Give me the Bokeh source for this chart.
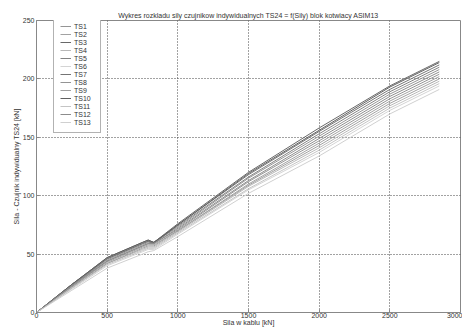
from bokeh.plotting import figure
from bokeh.models import Range1d, Legend, LegendItem, FixedTicker
from bokeh.embed import file_html
from bokeh.resources import INLINE

x_kn = [0, 250, 500, 750, 790, 830, 1000, 1500, 2000, 2500, 2850]

names = ["TS1", "TS2", "TS3", "TS4", "TS5", "TS6", "TS7",
         "TS8", "TS9", "TS10", "TS11", "TS12", "TS13"]

TS1 = [0, 23, 45, 58, 60, 60, 73, 115, 151, 187, 208]
TS2 = [0, 22, 43, 56, 58, 58, 70, 110, 145, 181, 202]
TS3 = [0, 24, 47, 60, 62, 60, 76, 120, 158, 194, 215]
TS4 = [0, 21, 42, 54, 56, 56, 69, 108, 141, 177, 198]
TS5 = [0, 23, 46, 59, 61, 60, 74, 116, 153, 189, 210]
TS6 = [0, 20, 40, 52, 54, 54, 67, 105, 137, 173, 194]
TS7 = [0, 24, 46, 59, 61, 59, 75, 118, 155, 191, 212]
TS8 = [0, 22, 44, 57, 59, 59, 71, 112, 147, 183, 204]
TS9 = [0, 21, 42, 55, 57, 57, 70, 109, 143, 179, 200]
TS10 = [0, 24, 47, 60, 62, 60, 75, 119, 156, 193, 214]
TS11 = [0, 21, 41, 53, 55, 55, 68, 106, 139, 175, 196]
TS12 = [0, 23, 44, 57, 59, 59, 72, 113, 149, 185, 206]
TS13 = [0, 19, 38, 50, 52, 53, 65, 102, 134, 170, 191]

series = [TS1, TS2, TS3, TS4, TS5, TS6, TS7, TS8, TS9, TS10, TS11, TS12, TS13]
colors = ["#959595", "#a2a2a2", "#686868", "#b8b8b8", "#828282", "#d4d4d4",
          "#747474", "#949494", "#a0a0a0", "#606060", "#c4c4c4", "#8c8c8c", "#d0d0d0"]

x_ticks = [0, 500, 1000, 1500, 2000, 2500, 3000]
y_ticks = [0, 50, 100, 150, 200, 250]

FONT = "Liberation Sans"

p = figure(width=462, height=329, output_backend="svg", toolbar_location=None,
           x_range=Range1d(0, 3000), y_range=Range1d(0, 250),
           min_border_left=36, min_border_right=2, min_border_top=20,
           min_border_bottom=17, background_fill_color="white",
           border_fill_color="white")

p.title.text = "Wykres rozkladu sily czujnikow indywidualnych TS24 = f(Sily) blok kotwiacy ASIM13"
p.title.align = "center"
p.title.text_font = FONT
p.title.text_font_size = "7px"
p.title.text_font_style = "normal"
p.title.text_color = "#333333"
p.title.standoff = 3
p.title.offset = 0

p.outline_line_color = "#888888"

for ax in (p.xaxis[0], p.yaxis[0]):
    ax.major_tick_in = 3
    ax.major_tick_out = 0
    ax.minor_tick_line_color = None
    ax.axis_line_color = "#888888"
    ax.major_tick_line_color = "#888888"
    ax.major_label_text_font = FONT
    ax.major_label_text_font_size = "7px"
    ax.major_label_text_color = "#333333"
    ax.axis_label_text_font = FONT
    ax.axis_label_text_font_size = "7px"
    ax.axis_label_text_font_style = "normal"
    ax.axis_label_text_color = "#333333"

p.xaxis.major_label_standoff = 0
p.xaxis.axis_label_standoff = -2
p.yaxis.major_label_standoff = 2
p.yaxis.axis_label_standoff = 0

p.xaxis.ticker = FixedTicker(ticks=x_ticks)
p.yaxis.ticker = FixedTicker(ticks=y_ticks)
p.xaxis.axis_label = "Sila w kablu [kN]"
p.yaxis.axis_label = "Sila - Czujnik indywidualny TS24 [kN]"

for g in (p.xgrid[0], p.ygrid[0]):
    g.grid_line_color = "#444444"
    g.grid_line_dash = "1 2"
    g.grid_line_width = 1

items = []
for name, ys, c in zip(names, series, colors):
    r = p.line(x_kn, ys, line_color=c, line_width=1)
    items.append(LegendItem(label=name, renderers=[r]))

legend = Legend(items=items, location=(17, 179))
legend.label_text_font = FONT
legend.label_text_font_size = "7px"
legend.label_text_color = "#333333"
legend.label_height = 8
legend.glyph_height = 8
legend.glyph_width = 11
legend.label_standoff = 3
legend.spacing = 0
legend.padding = 6
legend.margin = 0
legend.border_line_color = "#666666"
legend.background_fill_color = "white"
legend.background_fill_alpha = 1
p.add_layout(legend)

open("out.html", "w").write(file_html(p, INLINE))
